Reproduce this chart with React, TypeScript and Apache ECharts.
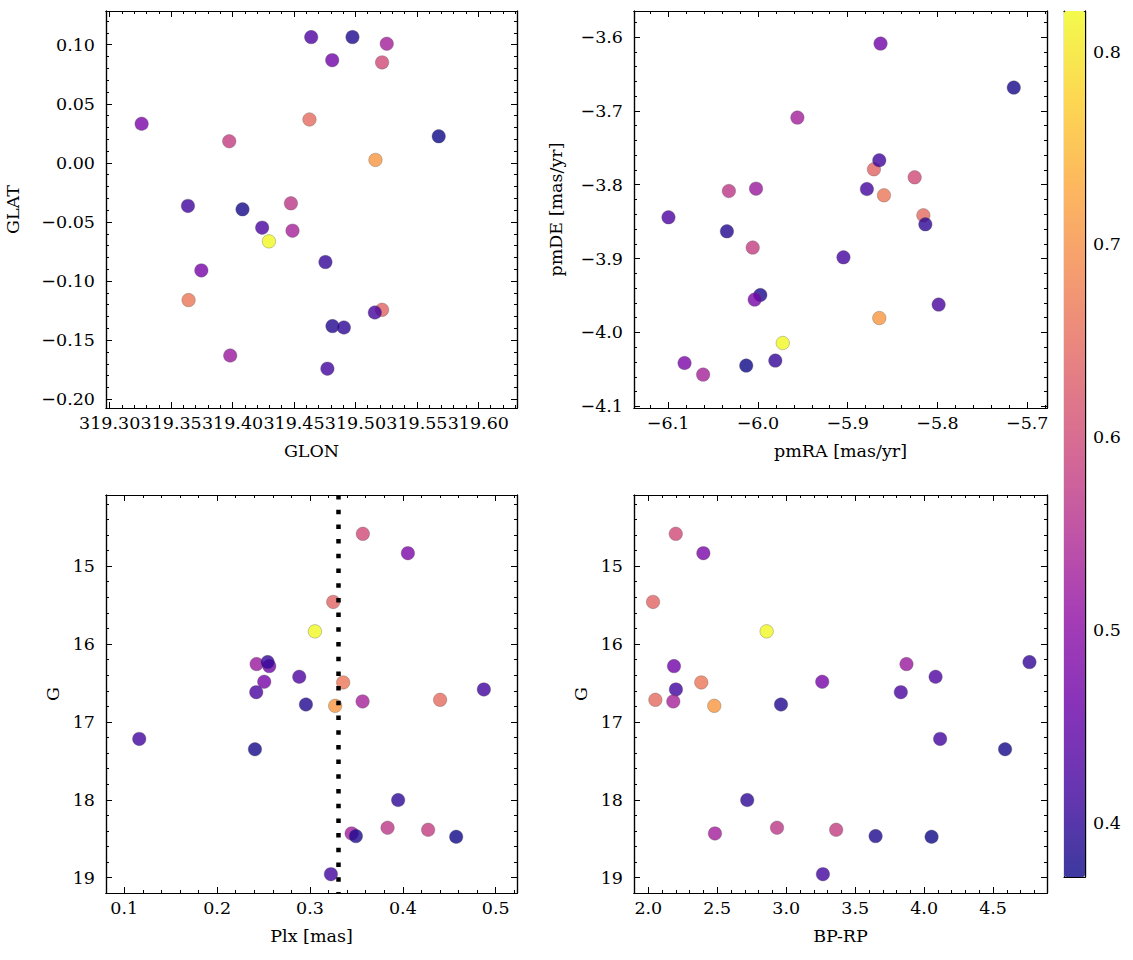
import React, { useEffect, useRef } from "react";
import * as echarts from "echarts";

// ---- data (one entry per star, same order in every array) ----
const starIds = ["A","B","C","E","G","F","H","J","K","D","L","M","N","O","P","Q","R","S","T","U","V","W","I","X","Y"];
const glon = [319.5217, 319.3260, 319.5217, 319.3981, 319.4811, 319.4756, 319.4640, 319.3642, 319.4241, 319.4296, 319.3637, 319.4813, 319.5163, 319.4488, 319.4626, 319.5158, 319.4081, 319.4906, 319.4475, 319.3973, 319.5255, 319.4976, 319.3746, 319.5678, 319.4772];
const glat = [0.0850, 0.0331, -0.1243, -0.1630, 0.0869, -0.0839, 0.1064, -0.1161, -0.0548, -0.0664, -0.0364, -0.1381, 0.0025, -0.0574, 0.0367, -0.1266, -0.0393, -0.1393, -0.0342, 0.0183, 0.1008, 0.1064, -0.0910, 0.0225, -0.1741];
const pmra = [-5.8254, -6.0817, -5.8708, -6.0021, -5.8634, -5.9806, -6.0996, -5.8596, -5.7987, -5.9723, -5.8648, -6.0345, -5.8648, -6.0610, -5.8157, -5.9047, -5.7150, -5.8135, -6.0323, -6.0058, -5.9560, -5.9973, -6.0036, -6.0130, -5.8786];
const pmde = [-3.7900, -4.0414, -3.7791, -3.8053, -3.6089, -4.0381, -3.8441, -3.8143, -3.9623, -4.0143, -3.7669, -3.8631, -3.9805, -4.0571, -3.8414, -3.8983, -3.6685, -3.8536, -3.8085, -3.8851, -3.7091, -3.9493, -3.9555, -4.0449, -3.8058];
const plx = [0.3569, 0.4054, 0.3250, 0.2425, 0.2561, 0.2544, 0.2884, 0.3357, 0.2421, 0.3053, 0.4872, 0.2956, 0.3271, 0.3566, 0.4401, 0.1161, 0.2407, 0.3949, 0.3835, 0.4272, 0.3448, 0.3494, 0.2507, 0.4574, 0.3225];
const gmag = [14.584, 14.833, 15.459, 16.257, 16.283, 16.232, 16.420, 16.493, 16.618, 15.837, 16.583, 16.776, 16.793, 16.737, 16.716, 17.218, 17.351, 18.003, 18.359, 18.385, 18.432, 18.466, 16.484, 18.475, 18.955];
const bprp = [2.199, 2.399, 2.034, 3.872, 2.186, 4.764, 4.083, 2.384, 3.831, 2.858, 2.200, 2.962, 2.478, 2.181, 2.051, 4.116, 4.587, 2.717, 2.933, 3.362, 2.483, 3.648, 3.261, 4.054, 3.266];
const colorValue = [0.60, 0.48, 0.64, 0.52, 0.47, 0.405, 0.43, 0.665, 0.425, 0.821, 0.415, 0.39, 0.71, 0.535, 0.65, 0.42, 0.378, 0.40, 0.57, 0.58, 0.53, 0.385, 0.475, 0.372, 0.42];

const plxLine = 0.327;

// ---- tick labels ----
const glonTicks = [319.30, 319.35, 319.40, 319.45, 319.50, 319.55, 319.60];
const glatTicks = [-0.20, -0.15, -0.10, -0.05, 0.00, 0.05, 0.10];
const pmraTicks = [-6.1, -6.0, -5.9, -5.8, -5.7];
const pmdeTicks = [-4.1, -4.0, -3.9, -3.8, -3.7, -3.6];
const plxTicks = [0.1, 0.2, 0.3, 0.4, 0.5];
const gTicks = [15, 16, 17, 18, 19];
const bprpTicks = [2.0, 2.5, 3.0, 3.5, 4.0, 4.5];
const cbarTicks = [0.4, 0.5, 0.6, 0.7, 0.8];

// axis limits
const glonRange = [319.297, 319.6315];
const glatRange = [-0.2074, 0.1285];
const pmraRange = [-6.138, -5.678];
const pmdeRange = [-4.1023, -3.5648];
const plxRange = [0.0803, 0.5229];
const gRange = [14.086, 19.197];
const bprpRange = [1.896, 4.891];
const cRange = [0.372, 0.821];

// plasma colormap stops
const plasma = ["#0d0887", "#41049d", "#6a00a8", "#8f0da4", "#b12a90", "#cc4778", "#e16462", "#f2844b", "#fca636", "#fcce25", "#f0f921"];
const ALPHA = 0.8;

const FONT = "DejaVu Serif";
const FS = 17.5;

function blend(hex: string, a: number) {
  const n = parseInt(hex.slice(1), 16);
  const r = (n >> 16) & 255, g = (n >> 8) & 255, b = n & 255;
  const f = (c: number) => Math.round(a * c + (1 - a) * 255).toString(16).padStart(2, "0");
  return "#" + f(r) + f(g) + f(b);
}

function minorTicks(range: number[], step: number, every: number) {
  const out: number[] = [];
  const k0 = Math.ceil(range[0] / step - 1e-6);
  const k1 = Math.floor(range[1] / step + 1e-6);
  for (let k = k0; k <= k1; k++) {
    if (((k % every) + every) % every !== 0) out.push(+(k * step).toFixed(6));
  }
  return out;
}

const fmt = (d: number) => (v: number) => {
  const x = Math.abs(v) < 1e-9 ? 0 : v;
  return x.toFixed(d).replace("-", "\u2212");
};

const textStyle = { color: "#000", fontFamily: FONT, fontSize: FS };

function buildAxes(
  dim: "x" | "y",
  gridIndex: number,
  range: number[],
  majors: number[],
  minors: number[],
  digits: number,
  name: string,
  nameGap: number,
  inverse = false
) {
  const main = dim === "x" ? "bottom" : "left";
  const opp = dim === "x" ? "top" : "right";
  const common: any = {
    type: "value",
    gridIndex,
    min: range[0],
    max: range[1],
    inverse,
    silent: true,
    splitLine: { show: false },
    axisPointer: { show: false },
    axisLine: { show: true, onZero: false, lineStyle: { color: "#000", width: 1.2 } },
  };
  const tick = (vals: number[], len: number) => ({
    show: true,
    inside: true,
    length: len,
    customValues: vals,
    lineStyle: { color: "#000", width: 1 },
  });
  const noLabel = { show: false };
  return [
    {
      ...common,
      position: main,
      axisTick: tick(majors, 6),
      axisLabel: {
        show: true,
        customValues: majors,
        formatter: fmt(digits),
        margin: dim === "x" ? 6 : 11,
        ...textStyle,
      },
      name,
      nameLocation: "middle",
      nameGap,
      nameTextStyle: textStyle,
    },
    { ...common, position: main, axisTick: tick(minors, 3), axisLabel: noLabel },
    { ...common, position: opp, axisTick: tick(majors, 6), axisLabel: noLabel },
    { ...common, position: opp, axisTick: tick(minors, 3), axisLabel: noLabel },
  ];
}

const PANELS = [
  { left: 106, top: 11, width: 411, height: 397 },
  { left: 634, top: 11, width: 413, height: 397 },
  { left: 106, top: 495, width: 411, height: 398 },
  { left: 634, top: 495, width: 413, height: 398 },
];
const CBAR = { left: 1064, top: 11, width: 21, height: 866 };

function buildOption() {
  const grids = [...PANELS, CBAR].map((p) => ({ ...p, containLabel: false, outerBoundsMode: "none" }));

  const xAxes: any[] = [
    ...buildAxes("x", 0, glonRange, glonTicks, minorTicks(glonRange, 0.01, 5), 2, "GLON", 34),
    ...buildAxes("x", 1, pmraRange, pmraTicks, minorTicks(pmraRange, 0.02, 5), 1, "pmRA [mas/yr]", 34),
    ...buildAxes("x", 2, plxRange, plxTicks, minorTicks(plxRange, 0.02, 5), 1, "Plx [mas]", 34),
    ...buildAxes("x", 3, bprpRange, bprpTicks, minorTicks(bprpRange, 0.1, 5), 1, "BP-RP", 34),
  ];
  const yAxes: any[] = [
    ...buildAxes("y", 0, glatRange, glatTicks, minorTicks(glatRange, 0.01, 5), 2, "GLAT", 84),
    ...buildAxes("y", 1, pmdeRange, pmdeTicks, minorTicks(pmdeRange, 0.02, 5), 1, "pmDE [mas/yr]", 69),
    ...buildAxes("y", 2, gRange, gTicks, minorTicks(gRange, 0.2, 5), 0, "G", 44, true),
    ...buildAxes("y", 3, gRange, gTicks, minorTicks(gRange, 0.2, 5), 0, "G", 44, true),
  ];

  // colorbar frame + ticks
  const cbLine = { show: true, onZero: false, lineStyle: { color: "#000", width: 1.2 } };
  const cbX = xAxes.length;
  xAxes.push(
    { type: "value", gridIndex: 4, min: 0, max: 1, position: "bottom", axisLine: cbLine, axisTick: { show: false }, axisLabel: { show: false }, splitLine: { show: false } },
    { type: "value", gridIndex: 4, min: 0, max: 1, position: "top", axisLine: cbLine, axisTick: { show: false }, axisLabel: { show: false }, splitLine: { show: false } }
  );
  const cbY = yAxes.length;
  yAxes.push(
    {
      type: "value", gridIndex: 4, min: cRange[0], max: cRange[1], position: "right",
      axisLine: cbLine,
      axisTick: { show: true, inside: true, length: 6, customValues: cbarTicks, lineStyle: { color: "#000", width: 1 } },
      axisLabel: { show: true, customValues: cbarTicks, formatter: fmt(1), margin: 8, ...textStyle },
      splitLine: { show: false },
    },
    {
      type: "value", gridIndex: 4, min: cRange[0], max: cRange[1], position: "right",
      axisLine: cbLine,
      axisTick: { show: true, inside: true, length: 3, customValues: minorTicks(cRange, 0.02, 5), lineStyle: { color: "#000", width: 1 } },
      axisLabel: { show: false },
      splitLine: { show: false },
    },
    {
      type: "value", gridIndex: 4, min: cRange[0], max: cRange[1], position: "left",
      axisLine: cbLine, axisTick: { show: false }, axisLabel: { show: false }, splitLine: { show: false },
    }
  );

  const pts = (xs: number[], ys: number[]) => xs.map((x, i) => [x, ys[i], colorValue[i], starIds[i]]);
  const scatterBase = {
    type: "scatter",
    symbol: "circle",
    symbolSize: 13.5,
    itemStyle: { opacity: ALPHA, borderColor: "#555", borderWidth: 0.4 },
    silent: true,
  };

  const series: any[] = [
    { ...scatterBase, xAxisIndex: 0, yAxisIndex: 0, data: pts(glon, glat) },
    { ...scatterBase, xAxisIndex: 4, yAxisIndex: 4, data: pts(pmra, pmde) },
    {
      ...scatterBase,
      xAxisIndex: 8,
      yAxisIndex: 8,
      data: pts(plx, gmag),
      markLine: {
        silent: true,
        symbol: ["none", "none"],
        label: { show: false },
        z: 5,
        lineStyle: { color: "#000", width: 4.5, type: [4.5, 10.2], cap: "butt", opacity: 1 },
        emphasis: { disabled: true },
        data: [{ xAxis: plxLine }],
      },
    },
    { ...scatterBase, xAxisIndex: 12, yAxisIndex: 12, data: pts(bprp, gmag) },
    { type: "scatter", xAxisIndex: cbX, yAxisIndex: cbY, data: [], silent: true },
  ];

  return {
    animation: false,
    backgroundColor: "#fff",
    grid: grids,
    xAxis: xAxes,
    yAxis: yAxes,
    visualMap: [
      {
        type: "continuous",
        show: false,
        min: cRange[0],
        max: cRange[1],
        dimension: 2,
        seriesIndex: [0, 1, 2, 3],
        inRange: { color: plasma },
      },
      {
        type: "continuous",
        show: true,
        min: cRange[0],
        max: cRange[1],
        seriesIndex: [4],
        orient: "vertical",
        left: CBAR.left,
        top: CBAR.top,
        itemWidth: CBAR.width,
        itemHeight: CBAR.height,
        padding: 0,
        calculable: false,
        hoverLink: false,
        inRange: { color: plasma.map((c) => blend(c, ALPHA)) },
      },
    ],
    series,
  };
}

export default function App() {
  const ref = useRef<HTMLDivElement>(null);
  useEffect(() => {
    if (!ref.current) return;
    const chart = echarts.init(ref.current, undefined, { renderer: "svg" });
    chart.setOption(buildOption() as any);
    return () => chart.dispose();
  }, []);
  return (
    <div
      ref={ref}
      style={{ position: "absolute", left: 0, top: 0, width: 1133, height: 960, background: "#fff" }}
    />
  );
}
